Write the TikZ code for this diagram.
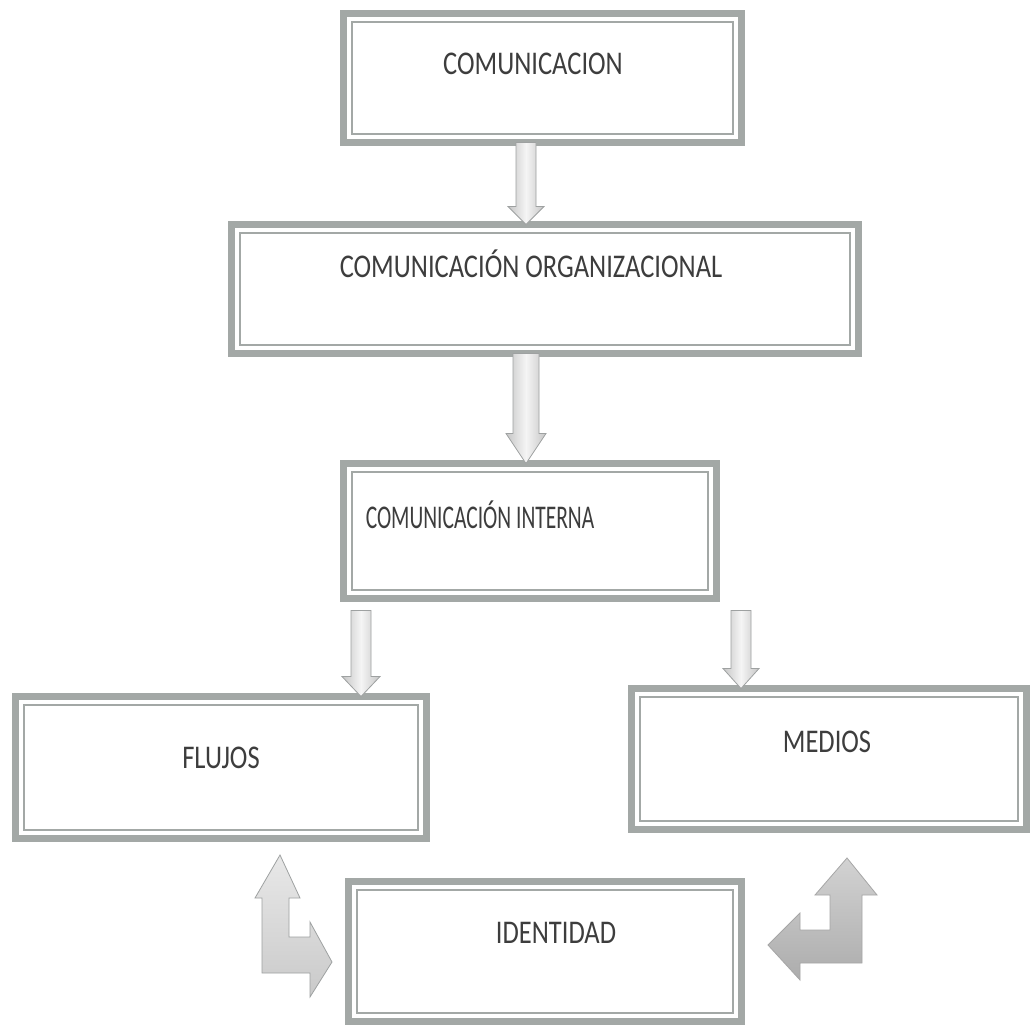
\documentclass[tikz,border=0pt]{standalone}
\usepackage{fontspec}
\setmainfont{Carlito}
\usetikzlibrary{calc}
\definecolor{boxgray}{rgb}{0.64,0.66,0.65}
\definecolor{txtgray}{rgb}{0.24,0.24,0.24}
\definecolor{arrline}{rgb}{0.62,0.63,0.63}
% #1 x, #2 from node, #3 to node, #4 shaft half width, #5 head half width,
% #6 head length, #7 style, #8 start gap
\newcommand\downblock[8]{%
  \path[#7] let \p1=(#2.south), \p2=(#3.north) in
    (#1-#4,\y1-#8pt) -- (#1+#4,\y1-#8pt) -- (#1+#4,\y2+#6pt) -- (#1+#5,\y2+#6pt) --
    (#1,\y2) -- (#1-#5,\y2+#6pt) -- (#1-#4,\y2+#6pt) -- cycle;}
\begin{document}
\begin{tikzpicture}[x=1pt,y=-1pt,
  framebox/.style={draw=boxgray,line width=7pt,inner sep=0pt,outer sep=0pt,
    minimum width=#1,
    path picture={\draw[boxgray,line width=1.4pt]
      ([shift={(8.5,8.5)}]path picture bounding box.north west) rectangle
      ([shift={(-8.5,-8.5)}]path picture bounding box.south east);}},
  boxh/.style={minimum height=#1},
  label text/.style={inner sep=0pt,anchor=base,text=txtgray,font=\fontsize{26.5}{30}\selectfont},
  downarrow/.style={draw=arrline,line width=0.8pt,shading=axis,
    left color=gray!45,right color=gray!45,middle color=gray!8,shading angle=90},
  bentlight/.style={draw=arrline,line width=0.8pt,top color=gray!18,bottom color=gray!42},
  bentdark/.style={draw=gray!70,line width=0.8pt,top color=gray!35,bottom color=gray!65}]
\useasboundingbox (0,0) rectangle (1033,1035);
\fill[white] (0,0) rectangle (1033,1035);

% boxes
\node[framebox=398pt,boxh=129pt] (b1) at (542.5,78) {};
\node[framebox=627pt,boxh=129pt] (b2) at (545,289) {};
\node[framebox=373pt,boxh=135pt] (b3) at (530,531) {};
\node[framebox=411pt,boxh=142pt] (bf) at (221,767.5) {};
\node[framebox=395pt,boxh=141pt] (bm) at (829,759) {};
\node[framebox=393pt,boxh=140pt] (bi) at (545,951.5) {};

% down arrows
\downblock{526}{b1}{b2}{10}{18}{18}{downarrow}{0}
\downblock{526}{b2}{b3}{13}{20}{30}{downarrow}{0}
\downblock{361}{b3}{bf}{10}{19}{20}{downarrow}{12}
\downblock{741}{b3}{bm}{10}{18}{20}{downarrow}{12}

% texts
\node[label text] (t1) at (533,75) {\scalebox{1}[1.25]{COMUNICACION}};
\node[label text] (t2) at (531,277) {\scalebox{1}[1.25]{COMUNICACIÓN ORGANIZACIONAL}};
\node[label text] (t3) at (480,528) {\scalebox{0.81}[1.25]{COMUNICACIÓN INTERNA}};
\node[label text] (tf) at (221,768) {\scalebox{1}[1.25]{FLUJOS}};
\node[label text] (tm) at (827,752) {\scalebox{1}[1.25]{MEDIOS}};
\node[label text] (ti) at (556,943) {\scalebox{1}[1.25]{IDENTIDAD}};

% bent arrows
\path[bentlight] (280,855) -- (300,898) -- (289,898) -- (289,937) -- (310,937) --
  (310,922) -- (332,962) -- (310,997) -- (310,973) -- (262,973) -- (262,898) --
  (255,898) -- cycle;
\path[bentdark] (847,858) -- (877,895) -- (862,895) -- (862,963) -- (800,963) --
  (800,980) -- (768,945) -- (800,913) -- (800,930) -- (830,930) -- (830,895) --
  (815,895) -- cycle;
\end{tikzpicture}
\end{document}
